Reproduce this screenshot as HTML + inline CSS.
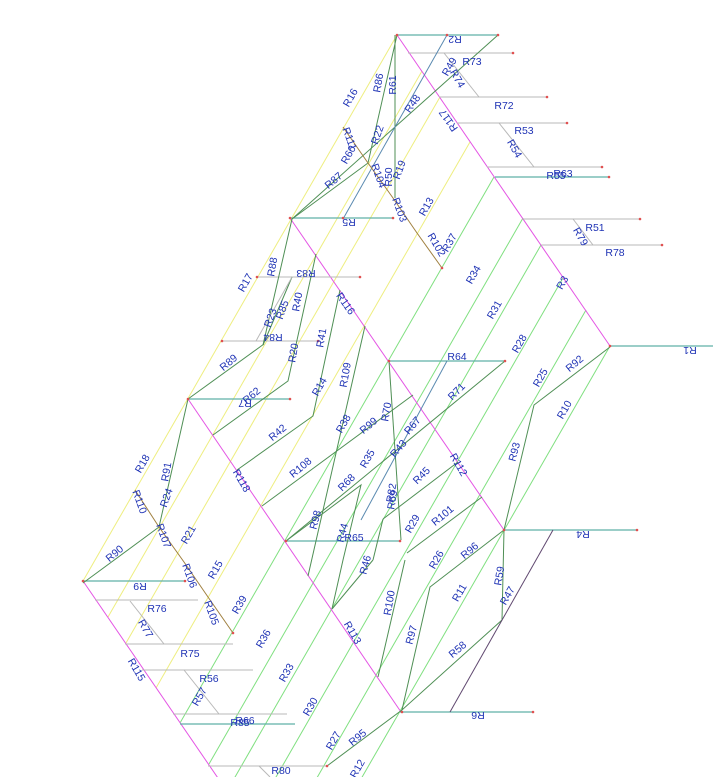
<!DOCTYPE html>
<html><head><meta charset="utf-8"><style>
html,body{margin:0;padding:0;background:#fff;width:713px;height:777px;overflow:hidden;}
svg{display:block;overflow:hidden;}
text{font-family:"Liberation Sans",sans-serif;font-size:10.5px;fill:#1f33b5;text-anchor:middle;dominant-baseline:middle;}
.m{stroke:#e455e4;stroke-width:1;fill:none}
.y{stroke:#eeee80;stroke-width:1;fill:none}
.g{stroke:#80e080;stroke-width:1;fill:none}
.d{stroke:#4f8f55;stroke-width:1;fill:none}
.t{stroke:#5fb0a8;stroke-width:1.2;fill:none}
.h{stroke:#b8b8b8;stroke-width:1;fill:none}
.b{stroke:#a08040;stroke-width:1;fill:none}
.p{stroke:#604870;stroke-width:1;fill:none}
.bl{stroke:#5a8ab0;stroke-width:1;fill:none}
.r{fill:#e05050}
</style></head><body>
<svg width="713" height="777" viewBox="0 0 713 777" xmlns="http://www.w3.org/2000/svg">
<defs><clipPath id="c"><rect x="0" y="0" width="713" height="777"/></clipPath></defs>
<g clip-path="url(#c)">
<line class="y" x1="397" y1="35" x2="83" y2="581"/>
<line class="y" x1="422" y1="71" x2="108" y2="617"/>
<line class="y" x1="440" y1="97" x2="126" y2="643"/>
<line class="y" x1="470" y1="142" x2="156" y2="688"/>
<line class="g" x1="494" y1="177" x2="180" y2="723"/>
<line class="g" x1="523" y1="218" x2="209" y2="764"/>
<line class="g" x1="541" y1="245" x2="227" y2="791"/>
<line class="g" x1="563" y1="278" x2="249" y2="824"/>
<line class="g" x1="586" y1="310" x2="272" y2="856"/>
<line class="g" x1="610" y1="346" x2="296" y2="892"/>
<line class="m" x1="397" y1="35" x2="610" y2="346"/>
<line class="m" x1="290" y1="218" x2="504" y2="530"/>
<line class="m" x1="188" y1="399" x2="401" y2="712"/>
<line class="m" x1="83" y1="581" x2="296" y2="892"/>
<line class="t" x1="397" y1="35" x2="498" y2="35"/>
<line class="h" x1="408" y1="53" x2="513" y2="53"/>
<line class="h" x1="439" y1="97" x2="547" y2="97"/>
<line class="h" x1="457" y1="123" x2="567" y2="123"/>
<line class="h" x1="487" y1="167" x2="602" y2="167"/>
<line class="t" x1="495" y1="177" x2="609" y2="177"/>
<line class="h" x1="523" y1="219" x2="640" y2="219"/>
<line class="h" x1="541" y1="245" x2="662" y2="245"/>
<line class="t" x1="610" y1="346" x2="713" y2="346"/>
<line class="t" x1="290" y1="218" x2="393" y2="218"/>
<line class="h" x1="257" y1="277" x2="360" y2="277"/>
<line class="h" x1="222" y1="341" x2="318" y2="341"/>
<line class="t" x1="188" y1="399" x2="290" y2="399"/>
<line class="t" x1="389" y1="361" x2="505" y2="361"/>
<line class="t" x1="286" y1="541" x2="400" y2="541"/>
<line class="t" x1="504" y1="530" x2="637" y2="530"/>
<line class="t" x1="83" y1="581" x2="185" y2="581"/>
<line class="h" x1="95" y1="600" x2="198" y2="600"/>
<line class="h" x1="125" y1="644" x2="233" y2="644"/>
<line class="h" x1="142" y1="670" x2="253" y2="670"/>
<line class="h" x1="173" y1="714" x2="287" y2="714"/>
<line class="t" x1="180" y1="724" x2="295" y2="724"/>
<line class="t" x1="400" y1="712" x2="533" y2="712"/>
<line class="h" x1="208" y1="766" x2="327" y2="766"/>
<line class="h" x1="444" y1="53" x2="479" y2="97"/>
<line class="h" x1="499" y1="123" x2="534" y2="167"/>
<line class="h" x1="573" y1="219" x2="593" y2="245"/>
<line class="h" x1="130" y1="601" x2="164" y2="644"/>
<line class="h" x1="184" y1="670" x2="219" y2="714"/>
<line class="h" x1="259" y1="766" x2="270" y2="777"/>
<polyline class="d" points="397,35 368,163 292,219"/>
<line class="d" x1="395" y1="35" x2="395" y2="198"/>
<line class="d" x1="498" y1="35" x2="292" y2="219"/>
<line class="bl" x1="447" y1="35" x2="343" y2="219"/>
<polyline class="b" points="343,127 368,163 393,198 417,233 442,268"/>
<polyline class="d" points="292,219 263,345 292,277"/>
<line class="h" x1="292" y1="277" x2="256" y2="341"/>
<polyline class="d" points="188,399 264,344"/>
<polyline class="d" points="213,435 288,381 316,254"/>
<polyline class="d" points="237,470 313,416 340,290"/>
<line class="d" x1="262" y1="506" x2="413" y2="395"/>
<line class="d" x1="365" y1="326" x2="308" y2="576"/>
<polyline class="d" points="188,399 159,527 83,583"/>
<polyline class="b" points="135,490 159,527 184,562 208,597 233,633"/>
<line class="d" x1="389" y1="361" x2="401" y2="540"/>
<line class="bl" x1="447" y1="361" x2="361" y2="520"/>
<line class="d" x1="505" y1="361" x2="286" y2="541"/>
<line class="d" x1="458" y1="462" x2="383" y2="519"/>
<line class="d" x1="482" y1="497" x2="407" y2="553"/>
<polyline class="d" points="286,541 361,485 343,560 332,609"/>
<line class="d" x1="383" y1="519" x2="373" y2="560"/>
<polyline class="d" points="610,347 534,405 504,530 502,620 402,710 430,587 504,530"/>
<line class="p" x1="553" y1="530" x2="450" y2="712"/>
<line class="d" x1="378" y1="677" x2="405" y2="560"/>
<line class="d" x1="332" y1="609" x2="373" y2="560"/>
<line class="d" x1="402" y1="710" x2="327" y2="766"/>
<g class="r">
<circle cx="397" cy="35" r="1.3"/><circle cx="447" cy="35" r="1.3"/><circle cx="498" cy="35" r="1.3"/>
<circle cx="513" cy="53" r="1.3"/><circle cx="547" cy="97" r="1.3"/><circle cx="567" cy="123" r="1.3"/>
<circle cx="602" cy="167" r="1.3"/><circle cx="609" cy="177" r="1.3"/><circle cx="640" cy="219" r="1.3"/>
<circle cx="662" cy="245" r="1.3"/><circle cx="610" cy="346" r="1.3"/><circle cx="290" cy="218" r="1.3"/>
<circle cx="343" cy="218" r="1.3"/><circle cx="393" cy="218" r="1.3"/><circle cx="360" cy="277" r="1.3"/>
<circle cx="257" cy="277" r="1.3"/><circle cx="222" cy="341" r="1.3"/><circle cx="318" cy="341" r="1.3"/>
<circle cx="188" cy="399" r="1.3"/><circle cx="290" cy="399" r="1.3"/><circle cx="389" cy="361" r="1.3"/>
<circle cx="505" cy="361" r="1.3"/><circle cx="504" cy="530" r="1.3"/><circle cx="637" cy="530" r="1.3"/>
<circle cx="83" cy="581" r="1.3"/><circle cx="185" cy="581" r="1.3"/><circle cx="402" cy="712" r="1.3"/>
<circle cx="533" cy="712" r="1.3"/><circle cx="286" cy="541" r="1.3"/><circle cx="400" cy="541" r="1.3"/>
<circle cx="442" cy="268" r="1.3"/><circle cx="233" cy="633" r="1.3"/><circle cx="327" cy="766" r="1.3"/>
</g>
<g>
<text x="455" y="39" transform="rotate(180 455 39)">R2</text>
<text x="472" y="62">R73</text>
<text x="450" y="67" transform="rotate(-60 450 67)">R49</text>
<text x="457" y="79" transform="rotate(60 457 79)">R74</text>
<text x="504" y="106">R72</text>
<text x="524" y="131">R53</text>
<text x="514" y="149" transform="rotate(60 514 149)">R54</text>
<text x="563" y="174">R63</text>
<text x="556" y="176">R55</text>
<text x="595" y="228">R51</text>
<text x="580" y="237" transform="rotate(60 580 237)">R79</text>
<text x="615" y="253">R78</text>
<text x="690" y="350" transform="rotate(180 690 350)">R1</text>
<text x="583" y="534" transform="rotate(180 583 534)">R4</text>
<text x="478" y="715" transform="rotate(180 478 715)">R6</text>
<text x="351" y="98" transform="rotate(-60 351 98)">R16</text>
<text x="379" y="83" transform="rotate(-80 379 83)">R86</text>
<text x="393" y="85" transform="rotate(-90 393 85)">R61</text>
<text x="413" y="104" transform="rotate(-55 413 104)">R48</text>
<text x="449" y="120" transform="rotate(235 449 120)">R117</text>
<text x="349" y="139" transform="rotate(70 349 139)">R111</text>
<text x="378" y="135" transform="rotate(-70 378 135)">R22</text>
<text x="349" y="155" transform="rotate(-60 349 155)">R60</text>
<text x="334" y="181" transform="rotate(-40 334 181)">R87</text>
<text x="378" y="176" transform="rotate(70 378 176)">R104</text>
<text x="389" y="177" transform="rotate(-90 389 177)">R50</text>
<text x="400" y="170" transform="rotate(-70 400 170)">R19</text>
<text x="399" y="210" transform="rotate(70 399 210)">R103</text>
<text x="427" y="207" transform="rotate(-60 427 207)">R13</text>
<text x="349" y="222" transform="rotate(180 349 222)">R5</text>
<text x="436" y="245" transform="rotate(60 436 245)">R102</text>
<text x="450" y="243" transform="rotate(-60 450 243)">R37</text>
<text x="474" y="275" transform="rotate(-60 474 275)">R34</text>
<text x="495" y="310" transform="rotate(-60 495 310)">R31</text>
<text x="520" y="344" transform="rotate(-60 520 344)">R28</text>
<text x="563" y="283" transform="rotate(-60 563 283)">R3</text>
<text x="246" y="283" transform="rotate(-60 246 283)">R17</text>
<text x="273" y="267" transform="rotate(-80 273 267)">R88</text>
<text x="306" y="273" transform="rotate(180 306 273)">R83</text>
<text x="283" y="310" transform="rotate(-70 283 310)">R85</text>
<text x="271" y="318" transform="rotate(-70 271 318)">R23</text>
<text x="273" y="337" transform="rotate(180 273 337)">R84</text>
<text x="298" y="302" transform="rotate(-80 298 302)">R40</text>
<text x="345" y="304" transform="rotate(55 345 304)">R116</text>
<text x="322" y="338" transform="rotate(-80 322 338)">R41</text>
<text x="229" y="363" transform="rotate(-40 229 363)">R89</text>
<text x="294" y="353" transform="rotate(-80 294 353)">R20</text>
<text x="346" y="375" transform="rotate(-80 346 375)">R109</text>
<text x="457" y="357">R64</text>
<text x="457" y="392" transform="rotate(-45 457 392)">R71</text>
<text x="541" y="378" transform="rotate(-60 541 378)">R25</text>
<text x="575" y="364" transform="rotate(-40 575 364)">R92</text>
<text x="252" y="396" transform="rotate(-40 252 396)">R62</text>
<text x="245" y="403" transform="rotate(180 245 403)">R7</text>
<text x="320" y="387" transform="rotate(-60 320 387)">R14</text>
<text x="387" y="412" transform="rotate(-80 387 412)">R70</text>
<text x="369" y="426" transform="rotate(-40 369 426)">R99</text>
<text x="413" y="426" transform="rotate(-50 413 426)">R67</text>
<text x="399" y="449" transform="rotate(-50 399 449)">R43</text>
<text x="565" y="410" transform="rotate(-60 565 410)">R10</text>
<text x="278" y="433" transform="rotate(-40 278 433)">R42</text>
<text x="344" y="424" transform="rotate(-60 344 424)">R38</text>
<text x="143" y="464" transform="rotate(-60 143 464)">R18</text>
<text x="167" y="472" transform="rotate(-80 167 472)">R91</text>
<text x="241" y="481" transform="rotate(60 241 481)">R118</text>
<text x="301" y="468" transform="rotate(-40 301 468)">R108</text>
<text x="347" y="483" transform="rotate(-45 347 483)">R68</text>
<text x="368" y="459" transform="rotate(-60 368 459)">R35</text>
<text x="458" y="465" transform="rotate(60 458 465)">R112</text>
<text x="515" y="452" transform="rotate(-75 515 452)">R93</text>
<text x="422" y="476" transform="rotate(-45 422 476)">R45</text>
<text x="139" y="502" transform="rotate(70 139 502)">R110</text>
<text x="167" y="498" transform="rotate(-70 167 498)">R24</text>
<text x="392" y="493" transform="rotate(-80 392 493)">R82</text>
<text x="393" y="500" transform="rotate(-80 393 500)">R69</text>
<text x="413" y="524" transform="rotate(-60 413 524)">R29</text>
<text x="443" y="516" transform="rotate(-40 443 516)">R101</text>
<text x="316" y="520" transform="rotate(-75 316 520)">R98</text>
<text x="343" y="533" transform="rotate(-75 343 533)">R44</text>
<text x="354" y="538">R65</text>
<text x="163" y="536" transform="rotate(70 163 536)">R107</text>
<text x="189" y="535" transform="rotate(-60 189 535)">R21</text>
<text x="115" y="554" transform="rotate(-40 115 554)">R90</text>
<text x="437" y="560" transform="rotate(-60 437 560)">R26</text>
<text x="470" y="551" transform="rotate(-40 470 551)">R96</text>
<text x="500" y="576" transform="rotate(-80 500 576)">R59</text>
<text x="508" y="596" transform="rotate(-60 508 596)">R47</text>
<text x="140" y="586" transform="rotate(180 140 586)">R9</text>
<text x="189" y="576" transform="rotate(70 189 576)">R106</text>
<text x="216" y="570" transform="rotate(-60 216 570)">R15</text>
<text x="366" y="565" transform="rotate(-75 366 565)">R46</text>
<text x="460" y="593" transform="rotate(-60 460 593)">R11</text>
<text x="157" y="609">R76</text>
<text x="211" y="613" transform="rotate(70 211 613)">R105</text>
<text x="240" y="605" transform="rotate(-60 240 605)">R39</text>
<text x="390" y="603" transform="rotate(-80 390 603)">R100</text>
<text x="145" y="629" transform="rotate(60 145 629)">R77</text>
<text x="190" y="654">R75</text>
<text x="264" y="639" transform="rotate(-60 264 639)">R36</text>
<text x="352" y="633" transform="rotate(60 352 633)">R113</text>
<text x="412" y="635" transform="rotate(-75 412 635)">R97</text>
<text x="458" y="650" transform="rotate(-40 458 650)">R58</text>
<text x="136" y="670" transform="rotate(60 136 670)">R115</text>
<text x="209" y="679">R56</text>
<text x="287" y="673" transform="rotate(-60 287 673)">R33</text>
<text x="200" y="697" transform="rotate(-60 200 697)">R57</text>
<text x="245" y="721">R66</text>
<text x="240" y="723">R85</text>
<text x="311" y="707" transform="rotate(-60 311 707)">R30</text>
<text x="334" y="741" transform="rotate(-60 334 741)">R27</text>
<text x="358" y="738" transform="rotate(-40 358 738)">R95</text>
<text x="281" y="771">R80</text>
<text x="358" y="769" transform="rotate(-60 358 769)">R12</text>
</g>
</g>
</svg>
</body></html>
